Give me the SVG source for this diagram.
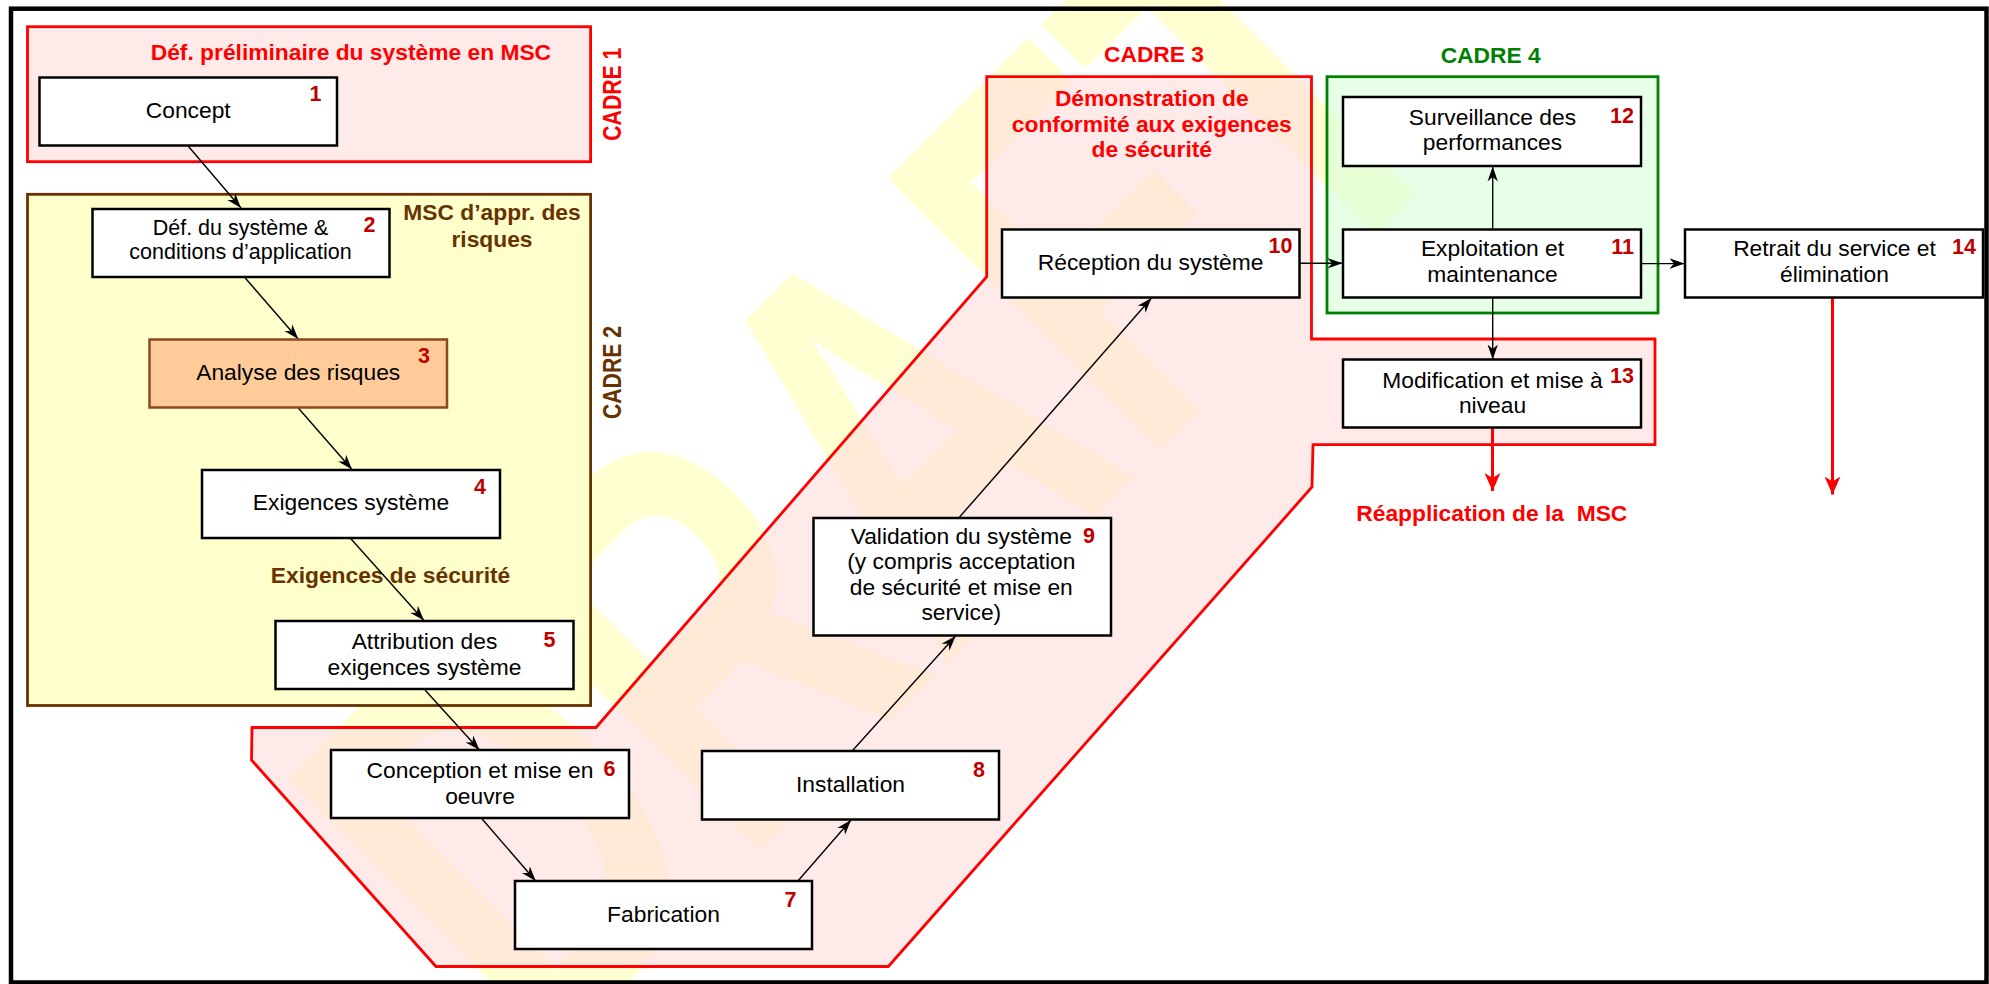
<svg xmlns="http://www.w3.org/2000/svg" width="1989" height="984" viewBox="0 0 1989 984">
  <defs>
    <style>
      .box { fill: #ffffff; stroke: #000000; stroke-width: 2.5; }
      .box-risk { fill: #ffcc99; stroke: #8b4a1c; stroke-width: 2.5; }
      .lbl { font-family: "Liberation Sans", Arial, sans-serif; font-size: 22.8px; fill: #000000; text-anchor: middle; }
      .lbl-sm { font-size: 21.5px; }
      .num { font-family: "Liberation Sans", Arial, sans-serif; font-size: 21.5px; font-weight: bold; fill: #c00000; text-anchor: end; }
      .hd { font-family: "Liberation Sans", Arial, sans-serif; font-size: 22.8px; font-weight: bold; text-anchor: middle; }
      .red { fill: #ff0000; }
      .brown { fill: #663300; }
      .green { fill: #008000; }
      .vert { font-family: "Liberation Sans", Arial, sans-serif; font-size: 26px; font-weight: bold; text-anchor: middle; }
      .pink-zone { fill: #ffdcdc; fill-opacity: 0.6; stroke: #ff0000; stroke-width: 2.8; }
      .conn { stroke: #000000; stroke-width: 1.4; fill: none; marker-end: url(#ah); }
      .conn-red { stroke: #ff0000; stroke-width: 3; fill: none; marker-end: url(#ah-red); }
      .wm { font-family: "Liberation Sans", Arial, sans-serif; font-weight: bold; font-size: 560px; fill: #ffffd2; }
    </style>
    <marker id="ah" markerUnits="userSpaceOnUse" markerWidth="16" markerHeight="12" refX="15" refY="6" orient="auto">
      <path d="M0,0.8 L15,6 L0,11.2 L4.5,6 Z" fill="#000000"/>
    </marker>
    <marker id="ah-red" markerUnits="userSpaceOnUse" markerWidth="19" markerHeight="17" refX="18" refY="8.5" orient="auto">
      <path d="M0,0.5 L18,8.5 L0,16.5 L5,8.5 Z" fill="#ff0000"/>
    </marker>
  </defs>

  <!-- page background -->
  <rect x="0" y="0" width="1989" height="984" fill="#ffffff"/>

  <!-- draft watermark, underneath everything else -->
  <text class="wm" transform="translate(541,1070) rotate(-45) scale(0.7,1)">DRAFT</text>

  <!-- outer frame -->
  <rect x="11" y="8.7" width="1975.5" height="973.8" fill="none" stroke="#000000" stroke-width="4.5"/>

  <!-- lifecycle frames -->
  <g id="cadre1">
    <rect class="pink-zone" x="27.5" y="26.7" width="563.1" height="135"/>
    <text class="hd red" x="350.9" y="60">Déf. préliminaire du système en MSC</text>
    <text class="vert red" transform="translate(620.5,94.2) rotate(-90)" textLength="93" lengthAdjust="spacingAndGlyphs">CADRE 1</text>
  </g>

  <g id="cadre2">
    <rect x="27.5" y="194.3" width="563.1" height="511.2" fill="#ffffcc" stroke="#663300" stroke-width="2.8"/>
    <text class="hd brown" x="492" y="220">MSC d’appr. des</text>
    <text class="hd brown" x="492" y="246.7">risques</text>
    <text class="hd brown" x="390.5" y="583.3">Exigences de sécurité</text>
    <text class="vert brown" transform="translate(620.5,372.5) rotate(-90)" textLength="93" lengthAdjust="spacingAndGlyphs">CADRE 2</text>
  </g>

  <g id="cadre3">
    <path class="pink-zone" d="M986.7,76.7 L1311.5,76.7 L1311.5,339 L1655,339 L1655,444.6 L1313,444.6 L1312,487 L888.3,966.5 L436,966.5 L251.5,760 L252,727.5 L596,727.5 L986.7,276.7 Z"/>
    <text class="hd red" x="1154" y="61.5">CADRE 3</text>
    <text class="hd red" x="1151.8" y="106">Démonstration de</text>
    <text class="hd red" x="1151.8" y="131.5">conformité aux exigences</text>
    <text class="hd red" x="1151.8" y="156.7">de sécurité</text>
    <text class="hd red" x="1491.8" y="521.4" xml:space="preserve">Réapplication de la  MSC</text>
  </g>

  <g id="cadre4">
    <rect x="1327" y="76.7" width="331" height="236.3" fill="#d9ffd9" fill-opacity="0.65" stroke="#008000" stroke-width="2.8"/>
    <text class="hd green" x="1490.7" y="62.5">CADRE 4</text>
  </g>

  <!-- connectors -->
  <g id="connectors">
    <line class="conn" x1="187.5" y1="145.3" x2="241" y2="208"/>
    <line class="conn" x1="244.6" y1="277.3" x2="298.2" y2="339"/>
    <line class="conn" x1="298.5" y1="408.2" x2="352" y2="469.5"/>
    <line class="conn" x1="349.3" y1="537" x2="424" y2="620.5"/>
    <line class="conn" x1="425" y1="690" x2="479.5" y2="750"/>
    <line class="conn" x1="481.7" y1="818.5" x2="535.7" y2="881"/>
    <line class="conn" x1="797.9" y1="881" x2="851" y2="820"/>
    <line class="conn" x1="852.6" y1="750.5" x2="955.6" y2="636"/>
    <line class="conn" x1="958.7" y1="518" x2="1151.5" y2="298"/>
    <line class="conn" x1="1299.5" y1="263.3" x2="1342.5" y2="263.3"/>
    <line class="conn" x1="1492.7" y1="229" x2="1492.7" y2="166.5"/>
    <line class="conn" x1="1492.7" y1="297.5" x2="1492.7" y2="359.5"/>
    <line class="conn" x1="1641.4" y1="263.6" x2="1684.5" y2="263.6"/>
    <line class="conn-red" x1="1492.5" y1="427.5" x2="1492.5" y2="491"/>
    <line class="conn-red" x1="1832.5" y1="297.5" x2="1832.5" y2="494.5"/>
  </g>

  <!-- phases -->
  <g id="node1">
    <rect class="box" x="39.5" y="77.5" width="297.5" height="68"/>
    <text class="lbl" x="188.25" y="117.5">Concept</text>
    <text class="num" x="321.4" y="101">1</text>
  </g>
  <g id="node2">
    <rect class="box" x="92.5" y="209" width="297" height="68"/>
    <text class="lbl lbl-sm" x="240.5" y="235">Déf. du système &amp;</text>
    <text class="lbl lbl-sm" x="240.5" y="259.3">conditions d’application</text>
    <text class="num" x="375.5" y="231.7">2</text>
  </g>
  <g id="node3">
    <rect class="box-risk" x="149.5" y="339.5" width="297.5" height="68"/>
    <text class="lbl" x="298.25" y="379.8">Analyse des risques</text>
    <text class="num" x="430" y="363.3">3</text>
  </g>
  <g id="node4">
    <rect class="box" x="202" y="470" width="298" height="68"/>
    <text class="lbl" x="351" y="510.3">Exigences système</text>
    <text class="num" x="486" y="494.3">4</text>
  </g>
  <g id="node5">
    <rect class="box" x="275.5" y="621" width="298" height="68"/>
    <text class="lbl" x="424.5" y="649.3">Attribution des</text>
    <text class="lbl" x="424.5" y="675">exigences système</text>
    <text class="num" x="555.5" y="646.7">5</text>
  </g>
  <g id="node6">
    <rect class="box" x="331" y="750" width="298" height="68"/>
    <text class="lbl" x="480" y="777.7">Conception et mise en</text>
    <text class="lbl" x="480" y="803.9">oeuvre</text>
    <text class="num" x="615.5" y="775.6">6</text>
  </g>
  <g id="node7">
    <rect class="box" x="515" y="881" width="297" height="68"/>
    <text class="lbl" x="663.5" y="921.7">Fabrication</text>
    <text class="num" x="796.5" y="906.5">7</text>
  </g>
  <g id="node8">
    <rect class="box" x="702" y="751" width="297" height="68.5"/>
    <text class="lbl" x="850.5" y="792.3">Installation</text>
    <text class="num" x="985" y="777">8</text>
  </g>
  <g id="node9">
    <rect class="box" x="813.5" y="518" width="297.5" height="117.5"/>
    <text class="lbl" x="961.3" y="543.7">Validation du système</text>
    <text class="lbl" x="961.3" y="569.2">(y compris acceptation</text>
    <text class="lbl" x="961.3" y="594.8">de sécurité et mise en</text>
    <text class="lbl" x="961.3" y="619.6">service)</text>
    <text class="num" x="1095" y="542.6">9</text>
  </g>
  <g id="node10">
    <rect class="box" x="1002" y="229.5" width="297.5" height="68"/>
    <text class="lbl" x="1150.6" y="269.8">Réception du système</text>
    <text class="num" x="1292.5" y="253.3">10</text>
  </g>
  <g id="node11">
    <rect class="box" x="1343" y="229.5" width="298" height="68"/>
    <text class="lbl" x="1492.5" y="256.4">Exploitation et</text>
    <text class="lbl" x="1492.5" y="282.1">maintenance</text>
    <text class="num" x="1634" y="253.6">11</text>
  </g>
  <g id="node12">
    <rect class="box" x="1343" y="97" width="298" height="69"/>
    <text class="lbl" x="1492.5" y="125">Surveillance des</text>
    <text class="lbl" x="1492.5" y="150">performances</text>
    <text class="num" x="1634" y="123">12</text>
  </g>
  <g id="node13">
    <rect class="box" x="1343" y="359.5" width="298" height="68"/>
    <text class="lbl" x="1492.5" y="387.5">Modification et mise à</text>
    <text class="lbl" x="1492.5" y="413.2">niveau</text>
    <text class="num" x="1634" y="382.9">13</text>
  </g>
  <g id="node14">
    <rect class="box" x="1685" y="229.5" width="298" height="68"/>
    <text class="lbl" x="1834.5" y="256.4">Retrait du service et</text>
    <text class="lbl" x="1834.5" y="282.1">élimination</text>
    <text class="num" x="1976" y="253.6">14</text>
  </g>
</svg>
